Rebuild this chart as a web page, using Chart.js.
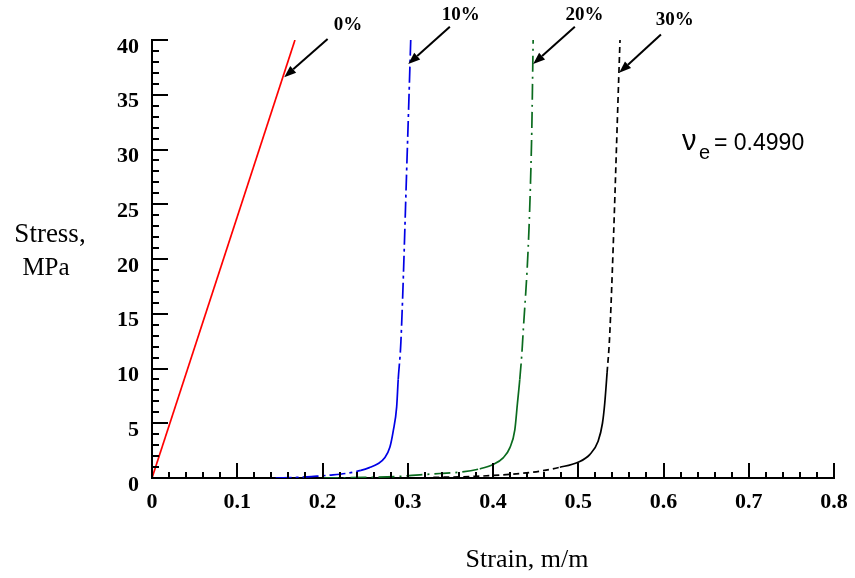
<!DOCTYPE html>
<html>
<head>
<meta charset="utf-8">
<script src="https://cdn.jsdelivr.net/npm/chart.js@4.4.1/dist/chart.umd.min.js"></script>
<style>
	html, body { margin: 0; padding: 0; background: #fff; }
	#wrap { width: 855px; height: 578px; }
</style>
</head>
<body>
<div id="wrap"><canvas id="chart" width="855" height="578"></canvas></div>
<script>
(function () {
	'use strict';

	// ── Data (strain m/m, stress MPa) ───────────────────────────────────────

	var strain0  = [0, 0.1677];
	var stress0  = [0, 40];

	var strain10 = [0.145, 0.17, 0.19, 0.21, 0.23, 0.245, 0.255, 0.265, 0.273, 0.279, 0.283, 0.287, 0.2888, 0.292, 0.2995, 0.3035];
	var stress10 = [0, 0.05, 0.15, 0.27, 0.45, 0.7, 0.95, 1.3, 1.85, 2.8, 4.3, 6.5, 9, 12.5, 30, 40];

	var strain20 = [0.2, 0.25, 0.29, 0.3142, 0.3377, 0.3611, 0.3845, 0.4002, 0.4119, 0.4197, 0.4256, 0.4287, 0.4314, 0.4346, 0.4452, 0.4471];
	var stress20 = [0, 0.05, 0.15, 0.29, 0.41, 0.53, 0.84, 1.23, 1.84, 2.75, 4.4, 6.85, 9, 12.3, 30.6, 40];

	var strain30 = [0.33, 0.38, 0.41, 0.4315, 0.4549, 0.4784, 0.4998, 0.5135, 0.5233, 0.5284, 0.5311, 0.5338, 0.537, 0.549];
	var stress30 = [0.05, 0.15, 0.28, 0.41, 0.62, 0.98, 1.44, 2.14, 3.35, 5.0, 6.85, 9.6, 13.2, 40];

	var xTicks = [0, 0.1, 0.2, 0.3, 0.4, 0.5, 0.6, 0.7, 0.8];
	var yTicks = [0, 5, 10, 15, 20, 25, 30, 35, 40];

	// Arrow annotations: tip on the curve, tail, and label centre (data units).
	var arrowLabels = ['0%', '10%', '20%', '30%'];
	var arrowTips   = [[0.1551, 36.6], [0.3006, 37.8], [0.4471, 37.8], [0.548, 37.0]];
	var arrowTails  = [[0.206, 40.1], [0.3494, 41.2], [0.496, 41.2], [0.597, 40.5]];
	var labelAt     = [[0.2298, 41.4], [0.3623, 42.25], [0.5072, 42.25], [0.6131, 41.8]];

	var SERIF = '"Liberation Serif", "Times New Roman", serif';
	var SANS  = '"Liberation Sans", Arial, sans-serif';

	function points(xs, ys) {
		return xs.map(function (x, i) { return { x: x, y: ys[i] }; });
	}

	// Curved knee looks solid in the original, straight parts carry the dash.
	function dashed(pattern) {
		return function (ctx) {
			var y = ctx.p0.parsed.y;
			return (y >= 0.7 && y < 7) ? [] : pattern;
		};
	}

	function series(label, xs, ys, color, pattern) {
		return {
			label: label,
			data: points(xs, ys),
			borderColor: color,
			borderWidth: 1.7,
			pointRadius: 0,
			showLine: true,
			cubicInterpolationMode: 'monotone',
			segment: pattern ? { borderDash: dashed(pattern) } : undefined
		};
	}

	// ── Plugins ──────────────────────────────────────────────────────────────

	var innerTicks = {
		id: 'innerTicks',
		afterDraw: function (chart) {
			var ctx = chart.ctx, xs = chart.scales.x, ys = chart.scales.y;
			var a = chart.chartArea, i, p, len;
			ctx.save();
			ctx.strokeStyle = '#000';
			ctx.lineWidth = 2;
			ctx.beginPath();
			for (i = 0; i <= 40; i++) {
				p = Math.round(xs.getPixelForValue(i * 0.02));
				len = i % 5 === 0 ? 15 : 6;
				ctx.moveTo(p, a.bottom);
				ctx.lineTo(p, a.bottom - len);
			}
			for (i = 0; i <= 40; i++) {
				p = Math.round(ys.getPixelForValue(i));
				len = i % 5 === 0 ? 16 : 7;
				ctx.moveTo(a.left, p);
				ctx.lineTo(a.left + len, p);
			}
			ctx.stroke();
			ctx.restore();
		}
	};

	var annotations = {
		id: 'annotations',
		afterDraw: function (chart) {
			var ctx = chart.ctx, xs = chart.scales.x, ys = chart.scales.y;
			ctx.save();
			ctx.strokeStyle = '#000';
			ctx.fillStyle = '#000';
			ctx.lineWidth = 2;

			arrowTips.forEach(function (tip, i) {
				var tx = xs.getPixelForValue(tip[0]), ty = ys.getPixelForValue(tip[1]);
				var sx = xs.getPixelForValue(arrowTails[i][0]), sy = ys.getPixelForValue(arrowTails[i][1]);
				var ang = Math.atan2(ty - sy, tx - sx);
				var hl = 12, hw = 4.5;
				var bx = tx - hl * Math.cos(ang), by = ty - hl * Math.sin(ang);
				ctx.beginPath();
				ctx.moveTo(sx, sy);
				ctx.lineTo(bx, by);
				ctx.stroke();
				ctx.beginPath();
				ctx.moveTo(tx, ty);
				ctx.lineTo(bx + hw * Math.sin(ang), by - hw * Math.cos(ang));
				ctx.lineTo(bx - hw * Math.sin(ang), by + hw * Math.cos(ang));
				ctx.closePath();
				ctx.fill();

				ctx.font = 'bold 19px ' + SERIF;
				ctx.textAlign = 'center';
				ctx.textBaseline = 'middle';
				ctx.fillText(arrowLabels[i], xs.getPixelForValue(labelAt[i][0]), ys.getPixelForValue(labelAt[i][1]));
			});

			// Axis titles.
			ctx.textAlign = 'center';
			ctx.textBaseline = 'alphabetic';
			ctx.font = '27px ' + SERIF;
			ctx.fillText('Stress,', 50, 242);
			ctx.font = '25px ' + SERIF;
			ctx.fillText('MPa', 46, 275);
			ctx.font = '26px ' + SERIF;
			ctx.fillText('Strain, m/m', 527, 567);

			// Poisson's ratio note.
			ctx.textAlign = 'left';
			ctx.font = '29px ' + SANS;
			ctx.fillText('\u03BD', 682, 150);
			ctx.font = '20px ' + SANS;
			ctx.fillText('e', 699, 159);
			ctx.font = '23px ' + SANS;
			ctx.fillText('= 0.4990', 714, 150);
			ctx.restore();
		}
	};

	// ── Chart ────────────────────────────────────────────────────────────────

	var tickFont = { family: SERIF, size: 22, weight: 'bold' };

	new Chart(document.getElementById('chart'), {
		type: 'scatter',
		data: {
			datasets: [
				series('0%',  strain0,  stress0,  '#ff0000', null),
				series('10%', strain10, stress10, '#0000e6', [16, 4, 3, 4]),
				series('20%', strain20, stress20, '#0a6b1e', [16, 5, 2, 5]),
				series('30%', strain30, stress30, '#000000', [6, 4])
			]
		},
		options: {
			responsive: false,
			animation: false,
			devicePixelRatio: 1,
			layout: { padding: { top: 40, right: 21, bottom: 0, left: 0 } },
			plugins: { legend: { display: false }, tooltip: { enabled: false } },
			scales: {
				x: {
					type: 'linear',
					min: 0,
					max: 0.8,
					afterBuildTicks: function (s) { s.ticks = xTicks.map(function (v) { return { value: v }; }); },
					afterFit: function (s) { s.height = 100; s.paddingLeft = 0; s.paddingRight = 0; },
					grid: { display: false, drawTicks: false },
					border: { display: true, color: '#000', width: 2 },
					ticks: {
						color: '#000',
						font: tickFont,
						padding: 11,
						maxRotation: 0,
						callback: function (v) { return v === 0 ? '0' : String(Math.round(v * 10) / 10); }
					}
				},
				y: {
					type: 'linear',
					min: 0,
					max: 40,
					afterBuildTicks: function (s) { s.ticks = yTicks.map(function (v) { return { value: v }; }); },
					afterFit: function (s) { s.width = 152; s.paddingTop = 0; s.paddingBottom = 0; },
					grid: { display: false, drawTicks: false },
					border: { display: true, color: '#000', width: 2 },
					ticks: {
						color: '#000',
						font: tickFont,
						padding: 13,
						labelOffset: 7
					}
				}
			}
		},
		plugins: [innerTicks, annotations]
	});
}());
</script>
</body>
</html>
